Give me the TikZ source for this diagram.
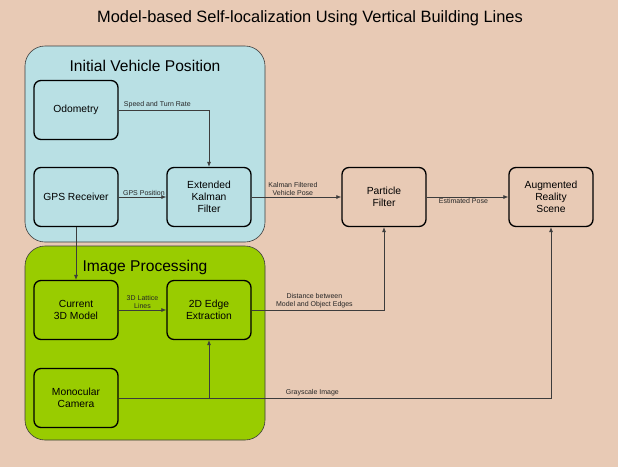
\documentclass[tikz,border=0pt]{standalone}
\usepackage{fontspec}
\setmainfont{Liberation Sans}
\usetikzlibrary{arrows.meta}

\definecolor{peach}{RGB}{232,202,181}
\definecolor{paleblue}{RGB}{185,224,228}
\definecolor{limegreen}{RGB}{153,204,0}
\definecolor{wire}{RGB}{60,60,60}

\begin{document}
\begin{tikzpicture}[x=1pt,y=-1pt,
    block/.style={draw=black,line width=1.3pt,rounded corners=7pt,
        minimum width=84pt,minimum height=59pt,inner sep=0pt,
        align=center,font=\fontsize{10.3}{12}\selectfont},
    group/.style={draw=wire,line width=0.6pt,rounded corners=20pt},
    link/.style={draw=wire,line width=0.7pt,-{Latex[length=5pt,width=4pt]}},
    lbl/.style={font=\fontsize{7}{8}\selectfont,align=center,
        text=black!85,inner sep=1.5pt}]

\fill[peach] (0,0) rectangle (618,467);
\useasboundingbox (0,0) rectangle (618,467);

\node (title) at (310,18) {\fontsize{16.4}{18}\selectfont Model-based Self-localization Using Vertical Building Lines};

% the two groups
\draw[group,fill=paleblue]  (25,46)  rectangle (265,242);
\draw[group,fill=limegreen] (25,246) rectangle (265,440);
\node (vehtitle) at (145,66)  {\fontsize{15.6}{17}\selectfont Initial Vehicle Position};
\node (imgtitle) at (145,267) {\fontsize{15.6}{17}\selectfont Image Processing};

% blocks
\node[block] (odo)  at (76,110)  {Odometry};
\node[block] (gps)  at (76,197)  {GPS Receiver};
\node[block] (ekf)  at (209,197) {Extended\\Kalman\\Filter};
\node[block] (cur)  at (76,310)  {Current\\3D Model};
\node[block] (edge) at (209,310) {2D Edge\\Extraction};
\node[block] (mono) at (76,398)  {Monocular\\Camera};
\node[block] (pf)   at (384,197) {Particle\\Filter};
\node[block] (ar)   at (551,197) {Augmented\\Reality\\Scene};

% connections
\draw[link] (odo.east) -| node[lbl,above,pos=0.214] {Speed and Turn Rate} (ekf.north);
\draw[link] (gps.east) -- node[lbl,above,pos=0.53] {GPS Position} (ekf.west);
\draw[link] (ekf.east) -- node[lbl,above,pos=0.46] {Kalman Filtered\\Vehicle Pose} (pf.west);
\draw[link] (pf.east) -- node[lbl,below,pos=0.45] {Estimated Pose} (ar.west);
\draw[link] (gps.south) -- (cur.north);
\draw[link] (cur.east) -- node[lbl,above] {3D Lattice\\Lines} (edge.west);
\draw[link] (edge.east) -| node[lbl,above,pos=0.237] {Distance between\\Model and Object Edges} (pf.south);
\draw[link] (mono.east) -| node[lbl,above,pos=0.224] {Grayscale Image} (ar.south);
\draw[link] (edge.south |- mono.east) -- (edge.south);
\end{tikzpicture}
\end{document}
